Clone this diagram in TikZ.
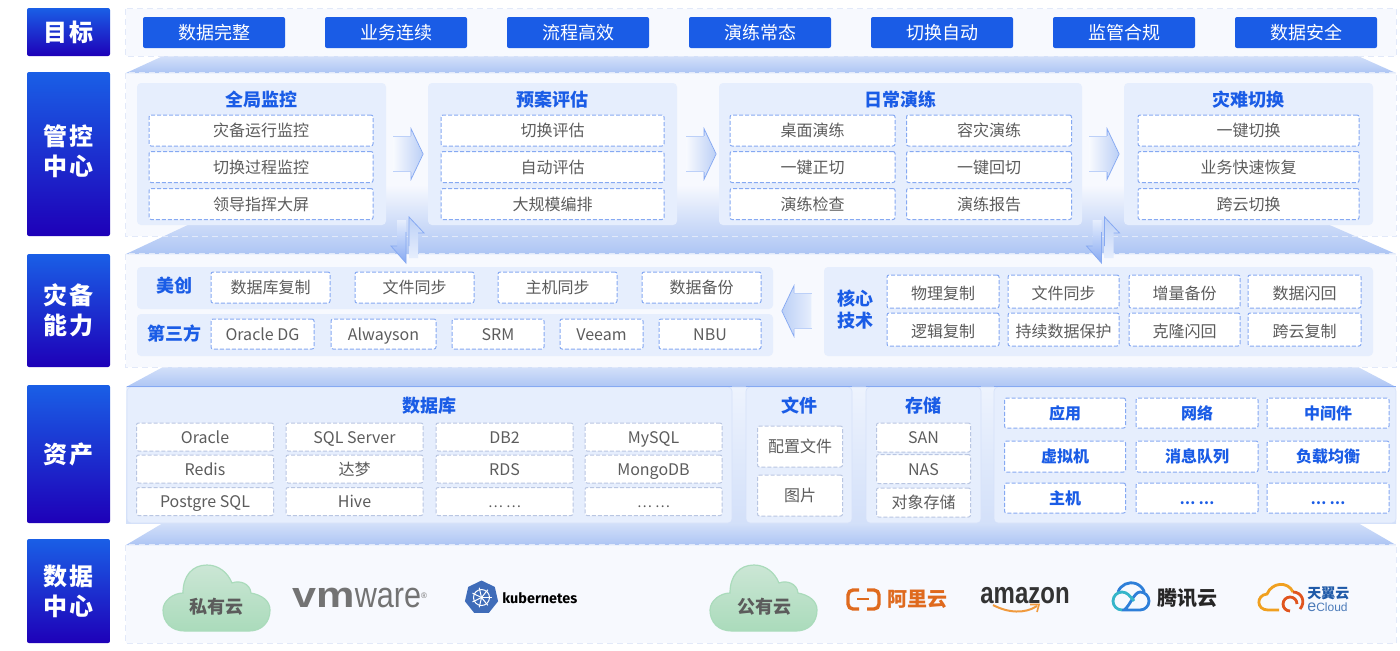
\documentclass[tikz,border=0pt]{standalone}
\usepackage{fontspec}
\usepackage{graphicx}
\setmainfont{Noto Sans CJK SC}
\newfontfamily\sidefont[LetterSpace=6]{Noto Sans CJK SC}
\newfontfamily\logofont{Liberation Sans}
\newfontfamily\kubefont{Fira Sans}
\usetikzlibrary{shapes.geometric,shapes.arrows}
\definecolor{bandtop}{HTML}{1A5FE6}
\definecolor{bandbot}{HTML}{1E00B8}
\definecolor{chipblue}{HTML}{1A5CE6}
\definecolor{panelfill}{HTML}{F7F9FE}
\definecolor{paneledge}{HTML}{E2E9F9}
\definecolor{subfill}{HTML}{E6EEFD}
\definecolor{dashblue}{HTML}{86A9F2}
\definecolor{dashgray}{HTML}{B9C6E2}
\definecolor{celltext}{HTML}{5C5C5C}
\definecolor{traptop}{HTML}{D3E0F9}
\definecolor{trapbot}{HTML}{ADC5F4}
\definecolor{arrowfill}{HTML}{BCD0F6}
\definecolor{arrowline}{HTML}{86A9F2}
\definecolor{cloudtop}{HTML}{CBE6D5}
\definecolor{cloudbot}{HTML}{AADBBB}
\definecolor{aliorange}{HTML}{DF6A1E}
\definecolor{smileorange}{HTML}{F09A3E}
\definecolor{kubeblue}{HTML}{3F6CB9}
\definecolor{txteal}{HTML}{35B5C9}
\definecolor{txblue}{HTML}{2E7FD9}
\definecolor{tyyellow}{HTML}{F0A020}
\definecolor{tyred}{HTML}{E0541E}
\definecolor{tyblue}{HTML}{1F5AA8}
\begin{document}
\begin{tikzpicture}[x=0.5pt,y=-0.5pt,
    sz/.style 2 args={minimum width=#1*0.5pt,minimum height=#2*0.5pt},
    sidelabel/.style={rounded corners=1pt,top color=bandtop,bottom color=bandbot,text=white,align=center,inner sep=0,font=\fontsize{12}{15}\selectfont\sidefont\bfseries},
    chip/.style={fill=chipblue,rounded corners=1pt,text=white,inner sep=0,sz={142}{31},font=\fontsize{9}{11}\selectfont},
    panel/.style={fill=panelfill,inner sep=0},
    paneline/.style={draw=paneledge,densely dashed,line width=0.3pt},
    subpanel/.style={fill=subfill,rounded corners=2pt,inner sep=0},
    assetpanel/.style={subpanel,draw=dashblue!35,line width=0.3pt},
    toprule/.style={draw=dashblue,line width=0.5pt},
    title/.style={text=chipblue,inner sep=0,align=center,font=\fontsize{9}{11}\selectfont\bfseries},
    onetitle/.style={title,text height=8.4pt,text depth=0.6pt},
    cell/.style={draw=dashblue,dash pattern=on 2pt off 1pt,line width=0.5pt,fill=white,rounded corners=1pt,inner sep=0,text=celltext,text height=7pt,text depth=1pt,font=\fontsize{8}{10}\selectfont},
    corecell/.style={cell,text height=8pt,text depth=0pt},
    graycell/.style={cell,draw=dashgray},
    boldcell/.style={cell,text=chipblue,font=\fontsize{8}{10}\selectfont\bfseries},
    dotcell/.style={font=\fontsize{7}{10}\selectfont},
    trap/.style={top color=traptop,bottom color=trapbot},
    blockarrow/.style={single arrow,single arrow head extend=3pt,single arrow tip angle=129,minimum height=14.5pt,inner xsep=0,inner ysep=8.5pt},
    toright/.style={blockarrow,left color=panelfill,right color=arrowfill},
    toleft/.style={blockarrow,shape border rotate=180,left color=arrowfill,right color=subfill},
    arrowedge/.style={draw=arrowline,line width=0.4pt},
    bodyedge/.style={draw=arrowline!55,line width=0.4pt},
    dualarrow/.pic={
        \shade[top color=subfill,bottom color=arrowline] (-10.5,-20) -- (-1.5,-20) -- (-1.5,23) -- (-16.5,6) -- (-10.5,6) -- cycle;
        \shade[top color=arrowfill,bottom color=subfill] (1.5,18) -- (1.5,-23) -- (16.5,-7) -- (10.5,-7) -- (10.5,18) -- cycle;
        \draw[arrowedge] (-1.5,-8) -- (-1.5,23) -- (-16.5,6) -- (-10.5,6);
        \draw[arrowedge] (1.5,6) -- (1.5,-23) -- (16.5,-7) -- (10.5,-7);
    },
    cloudbg/.pic={
        \shade[top color=cloudtop,bottom color=cloudbot,draw=cloudbot,line width=0.6pt] (-32,33) .. controls (-46,33) and (-54,24) .. (-54,12) .. controls (-54,3) and (-44,-5) .. (-34,-5) .. controls (-34,-22) and (-25,-33) .. (-10,-33) .. controls (2,-33) and (11,-25) .. (15,-15) .. controls (22,-18) and (33,-15) .. (34,-5) .. controls (45,-3) and (53,3) .. (53,12) .. controls (53,24) and (45,33) .. (32,33) -- cycle;
    }]
    \useasboundingbox (0,0) rectangle (1400,650);

    \node[sidelabel,sz={83}{48}] at (68.5,32) (goallabel) {目标};
    \node[sidelabel,sz={83}{164},text depth=4pt] at (68.5,154) (ctrllabel) {管控\\中心};
    \node[sidelabel,sz={83}{113}] at (68.5,310.5) (abilitylabel) {灾备\\能力};
    \node[sidelabel,sz={83}{138}] at (68.5,454) (assetlabel) {资产};
    \node[sidelabel,sz={83}{104},text depth=0.5pt] at (68.5,591) (dclabel) {数据\\中心};

    \node[panel,sz={1270}{47}] at (761,32.5) (goalpanel) {};
    \node[panel,sz={1270}{163}] at (761,154.5) (ctrlpanel) {};
    \node[panel,sz={1270}{113}] at (761,310.5) (abilitypanel) {};
    \node[sz={1270}{136},inner sep=0,top color=subfill!70!white,middle color=white,bottom color=traptop] at (761,455) (assetback) {};
    \node[panel,sz={1270}{98}] at (761,594) (dcpanel) {};

    \shade[trap] (163,56) -- (1358,56) -- (1396,73) -- (126,73) -- cycle;
    \shade[top color=panelfill,middle color=traptop!85!white,bottom color=trapbot] (273,185) -- (1238,185) -- (1396,254) -- (126,254) -- cycle;
    \shade[trap] (163,367) -- (1358,367) -- (1396,387) -- (126,387) -- cycle;
    \shade[trap] (163,523) -- (1358,523) -- (1396,545) -- (126,545) -- cycle;

    \draw[paneline] (goalpanel.north west) rectangle (goalpanel.south east);
    \draw[paneline] (ctrlpanel.north west) rectangle (ctrlpanel.south east);
    \draw[paneline] (abilitypanel.north west) rectangle (abilitypanel.south east);
    \draw[paneline] (dcpanel.north west) rectangle (dcpanel.south east);

    \node[chip] at (214,32.5) (chipa) {数据完整};
    \node[chip] at (396,32.5) (chipb) {业务连续};
    \node[chip] at (578,32.5) (chipc) {流程高效};
    \node[chip] at (760,32.5) (chipd) {演练常态};
    \node[chip] at (942,32.5) (chipe) {切换自动};
    \node[chip] at (1124,32.5) (chipf) {监管合规};
    \node[chip] at (1306,32.5) (chipg) {数据安全};

    \node[subpanel,sz={249}{142}] at (261.5,154) (monitorpanel) {};
    \node[subpanel,sz={249}{142}] at (552.5,154) (planpanel) {};
    \node[subpanel,sz={363}{142}] at (900.5,154) (drillpanel) {};
    \node[subpanel,sz={249}{142}] at (1248.5,154) (switchpanel) {};

    \node[onetitle] at (261.5,99) (monitortitle) {全局监控};
    \node[cell,sz={224}{31}] at (261,130.5) (monitora) {灾备运行监控};
    \node[cell,sz={224}{31}] at (261,167) (monitorb) {切换过程监控};
    \node[cell,sz={224}{31}] at (261,204) (monitorc) {领导指挥大屏};

    \node[onetitle] at (552.5,99) (plantitle) {预案评估};
    \node[cell,sz={223}{31}] at (552.5,130.5) (plana) {切换评估};
    \node[cell,sz={223}{31}] at (552.5,167) (planb) {自动评估};
    \node[cell,sz={223}{31}] at (552.5,204) (planc) {大规模编排};

    \node[onetitle] at (900.5,99) (drilltitle) {日常演练};
    \node[cell,sz={165}{31}] at (812.5,130.5) (drilla) {桌面演练};
    \node[cell,sz={165}{31}] at (989,130.5) (drillb) {容灾演练};
    \node[cell,sz={165}{31}] at (812.5,167) (drillc) {一键正切};
    \node[cell,sz={165}{31}] at (989,167) (drilld) {一键回切};
    \node[cell,sz={165}{31}] at (812.5,204) (drille) {演练检查};
    \node[cell,sz={165}{31}] at (989,204) (drillf) {演练报告};

    \node[onetitle] at (1248.5,99) (switchtitle) {灾难切换};
    \node[cell,sz={221}{31}] at (1248.5,130.5) (switcha) {一键切换};
    \node[cell,sz={221}{31}] at (1248.5,167) (switchb) {业务快速恢复};
    \node[cell,sz={221}{31}] at (1248.5,204) (switchc) {跨云切换};

    \node[toright] at (404,154) (arrowa) {};
    \node[toright] at (697,154) (arrowb) {};
    \node[toright] at (1100,154) (arrowc) {};
    \draw[arrowedge] (arrowa.before head) -- (arrowa.before tip) -- (arrowa.tip) -- (arrowa.after tip) -- (arrowa.after head);
    \draw[arrowedge] (arrowb.before head) -- (arrowb.before tip) -- (arrowb.tip) -- (arrowb.after tip) -- (arrowb.after head);
    \draw[arrowedge] (arrowc.before head) -- (arrowc.before tip) -- (arrowc.tip) -- (arrowc.after tip) -- (arrowc.after head);
    \draw[bodyedge] (arrowa.after tail) -- (arrowa.before head);
    \draw[bodyedge] (arrowa.after head) -- (arrowa.before tail);
    \draw[bodyedge] (arrowb.after tail) -- (arrowb.before head);
    \draw[bodyedge] (arrowb.after head) -- (arrowb.before tail);
    \draw[bodyedge] (arrowc.after tail) -- (arrowc.before head);
    \draw[bodyedge] (arrowc.after head) -- (arrowc.before tail);

    \node[subpanel,sz={636}{42}] at (455,288) (meipanel) {};
    \node[subpanel,sz={636}{42}] at (455,335) (thirdpanel) {};
    \node[subpanel,sz={549}{89}] at (1098.5,311.5) (corepanel) {};

    \node[onetitle] at (174,285) (meititle) {美创};
    \node[cell,sz={119}{31}] at (270.5,287.5) (meia) {数据库复制};
    \node[cell,sz={119}{31}] at (414.5,287.5) (meib) {文件同步};
    \node[cell,sz={119}{31}] at (557.5,287.5) (meic) {主机同步};
    \node[cell,sz={119}{31}] at (701.5,287.5) (meid) {数据备份};

    \node[onetitle] at (174,333) (thirdtitle) {第三方};
    \node[cell,sz={103}{30}] at (262.5,334) (thirda) {Oracle DG};
    \node[cell,sz={105}{30}] at (383.5,334) (thirdb) {Alwayson};
    \node[cell,sz={92}{30}] at (498,334) (thirdc) {SRM};
    \node[cell,sz={83}{30}] at (601.5,334) (thirdd) {Veeam};
    \node[cell,sz={102}{30}] at (710,334) (thirde) {NBU};

    \node[title] at (855,309.5) (coretitle) {核心\\技术};
    \node[corecell,sz={112}{33}] at (943,291.5) (corea) {物理复制};
    \node[corecell,sz={111}{33}] at (1063.5,291.5) (coreb) {文件同步};
    \node[corecell,sz={111}{33}] at (1184.5,291.5) (corec) {增量备份};
    \node[corecell,sz={113}{33}] at (1304.5,291.5) (cored) {数据闪回};
    \node[corecell,sz={112}{33}] at (943,329.5) (coree) {逻辑复制};
    \node[corecell,sz={111}{33}] at (1063.5,329.5) (coref) {持续数据保护};
    \node[corecell,sz={111}{33}] at (1184.5,329.5) (coreg) {克隆闪回};
    \node[corecell,sz={113}{33}] at (1304.5,329.5) (coreh) {跨云复制};

    \node[toleft] at (801,311) (arrowd) {};
    \draw[arrowedge] (arrowd.before head) -- (arrowd.before tip) -- (arrowd.tip) -- (arrowd.after tip) -- (arrowd.after head);
    \draw[bodyedge] (arrowd.after tail) -- (arrowd.before head);
    \draw[bodyedge] (arrowd.after head) -- (arrowd.before tail);

    \pic at (407.5,240) {dualarrow};
    \pic at (1103,240) {dualarrow};

    \node[assetpanel,sz={605}{136}] at (429.5,455) (dbpanel) {};
    \node[assetpanel,sz={106}{136}] at (799,455) (filepanel) {};
    \node[assetpanel,sz={115}{136}] at (923.5,455) (storepanel) {};
    \node[assetpanel,sz={402}{136}] at (1195,455) (otherpanel) {};
    \draw[toprule] (dbpanel.north west) -- (dbpanel.north east);
    \draw[toprule] (filepanel.north west) -- (filepanel.north east);
    \draw[toprule] (storepanel.north west) -- (storepanel.north east);
    \draw[toprule] (otherpanel.north west) -- (otherpanel.north east);

    \node[onetitle] at (429,405) (dbtitle) {数据库};
    \node[graycell,sz={137}{28}] at (205,437) (dba) {Oracle};
    \node[graycell,sz={137}{28}] at (354.5,437) (dbb) {SQL Server};
    \node[graycell,sz={137}{28}] at (504.5,437) (dbc) {DB2};
    \node[graycell,sz={137}{28}] at (653.5,437) (dbd) {MySQL};
    \node[graycell,sz={137}{28}] at (205,469) (dbe) {Redis};
    \node[graycell,sz={137}{28}] at (354.5,469) (dbf) {达梦};
    \node[graycell,sz={137}{28}] at (504.5,469) (dbg) {RDS};
    \node[graycell,sz={137}{28}] at (653.5,469) (dbh) {MongoDB};
    \node[graycell,sz={137}{28}] at (205,501.5) (dbi) {Postgre SQL};
    \node[graycell,sz={137}{28}] at (354.5,501.5) (dbj) {Hive};
    \node[graycell,sz={137}{28},dotcell] at (504.5,501.5) (dbk) {… …};
    \node[graycell,sz={137}{28},dotcell] at (653.5,501.5) (dbl) {… …};

    \node[onetitle] at (799,405) (filetitle) {文件};
    \node[graycell,sz={85}{41}] at (800,446.5) (filea) {配置文件};
    \node[graycell,sz={85}{41}] at (800,495.5) (fileb) {图片};

    \node[onetitle] at (923.5,405) (storetitle) {存储};
    \node[graycell,sz={94}{29}] at (923.5,437.5) (storea) {SAN};
    \node[graycell,sz={94}{29}] at (923.5,469) (storeb) {NAS};
    \node[graycell,sz={94}{29}] at (923.5,502.5) (storec) {对象存储};

    \node[boldcell,sz={121}{30}] at (1065,413) (othera) {应用};
    \node[boldcell,sz={122}{30}] at (1197,413) (otherb) {网络};
    \node[boldcell,sz={122}{30}] at (1328,413) (otherc) {中间件};
    \node[boldcell,sz={121}{31}] at (1065,456.5) (otherd) {虚拟机};
    \node[boldcell,sz={122}{31}] at (1197,456.5) (othere) {消息队列};
    \node[boldcell,sz={122}{31}] at (1328,456.5) (otherf) {负载均衡};
    \node[boldcell,sz={121}{30}] at (1065,498) (otherg) {主机};
    \node[boldcell,sz={122}{30}] at (1197,498) (otherh) {\fontsize{7}{10}\selectfont … …};
    \node[boldcell,sz={122}{30}] at (1328,498) (otheri) {\fontsize{7}{10}\selectfont … …};

    \pic at (217,598) {cloudbg};
    \node[inner sep=0,text=celltext,font=\fontsize{9}{11}\selectfont\bfseries] at (216,607) (privatecloud) {私有云};
    \pic at (764,598) {cloudbg};
    \node[inner sep=0,text=celltext,font=\fontsize{9}{11}\selectfont\bfseries] at (764,607) (publiccloud) {公有云};

    \node[inner sep=0,anchor=west,text=black!55,font=\fontsize{18}{18}\selectfont\logofont] at (292,597.5) (vmware) {\scalebox{1.2}[1]{\textbf{vm}}\scalebox{.85}[1]{ware}\smash{\raisebox{4.5pt}{\fontsize{4}{4}\selectfont ®}}};

    \node[regular polygon,regular polygon sides=7,fill=kubeblue,inner sep=0,minimum size=17pt] at (481.5,597.5) (kubelogo) {};
    \draw[white,line width=0.5pt] (kubelogo.center) circle (8);
    \foreach \a in {0,51,103,154,206,257,309} \draw[white,line width=0.5pt] (kubelogo.center) -- ++(\a:10);
    \node[inner sep=0,anchor=west,font=\fontsize{7.2}{8}\selectfont\kubefont\bfseries] at (502,598) (kubetext) {kubernetes};

    \node[inner sep=0,anchor=west,text=aliorange,font=\fontsize{10}{12}\selectfont\bfseries] at (887,599) (alitext) {阿里云};
    \draw[aliorange,line width=1.7pt,rounded corners=2.5pt] (859,590) -- (848,590) -- (848,609) -- (859,609);
    \draw[aliorange,line width=1.7pt,rounded corners=2.5pt] (867,590) -- (879,590) -- (879,609) -- (867,609);
    \draw[aliorange,line width=0.9pt] (857,599) -- (869,599);

    \node[inner sep=0,text=black!80,font=\fontsize{15}{15}\selectfont\logofont\bfseries] at (1025,596) (amazontext) {\scalebox{.8}[1]{amazon}};
    \draw[smileorange,line width=1pt] (993,605) .. controls (1008,613) and (1025,614) .. (1037,606);
    \draw[smileorange,line width=0.8pt] (1030,604.5) -- (1039,604.5) -- (1037,612);

    \draw[txblue,line width=1.4pt] (1118,592) arc (200:340:14);
    \draw[txblue,line width=1.4pt] (1122,610) -- (1140,610) arc (90:-90:9) .. controls (1134,592) and (1130,606) .. (1124,610);
    \draw[txteal,line width=1.4pt] (1122,610) arc (90:270:9) .. controls (1127,592) and (1130,596) .. (1134,601);
    \node[inner sep=0,anchor=west,text=black!85,font=\fontsize{10}{12}\selectfont\bfseries] at (1157,598) (tencenttext) {腾讯云};

    \draw[tyyellow,line width=1.4pt] (1279,610) -- (1268,610) .. controls (1256,610) and (1256,595) .. (1267,594) .. controls (1272,582) and (1288,581) .. (1293,592);
    \draw[tyred,line width=1.4pt] (1293,592) .. controls (1302,592) and (1306,602) .. (1300,609);
    \draw[tyred,line width=1.4pt] (1297,604) arc (0:-270:7);
    \node[inner sep=0,anchor=west,text=tyblue,font=\fontsize{7}{8}\selectfont\bfseries] at (1307,593.5) (tianyitext) {天翼云};
    \node[inner sep=0,anchor=west,text=tyblue!80!white,font=\fontsize{6}{7}\selectfont\logofont] at (1307,607.5) (ecloudtext) {{\fontsize{8}{8}\selectfont e}Cloud};
\end{tikzpicture}
\end{document}
